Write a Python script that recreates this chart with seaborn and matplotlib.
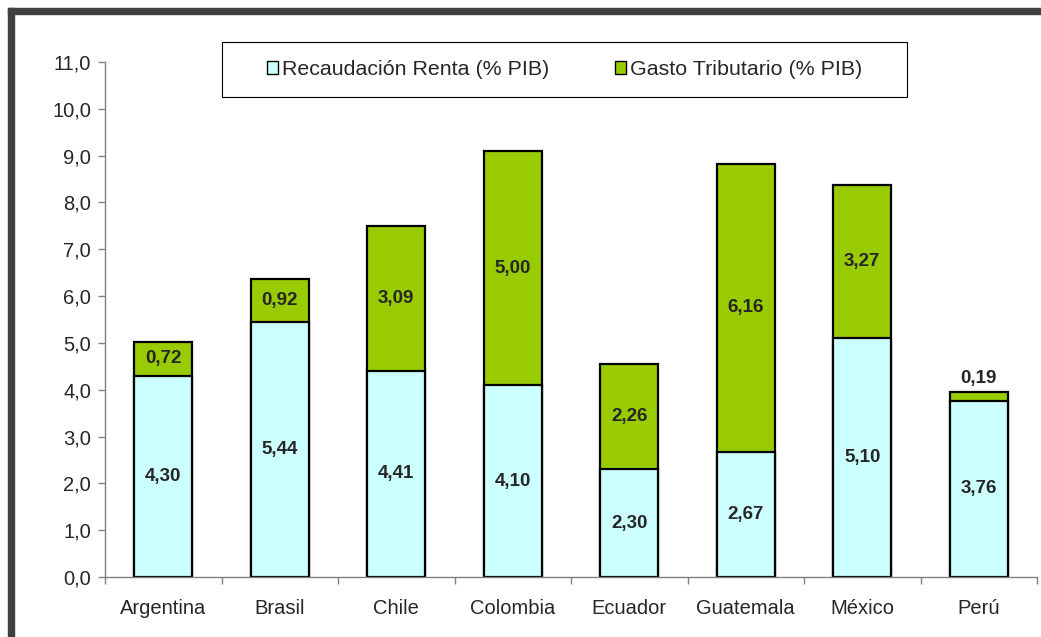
import numpy as np
import matplotlib
matplotlib.use("Agg")
import matplotlib.pyplot as plt
from matplotlib.patches import Rectangle, Patch
import seaborn as sns

sns.set_style("white")
plt.rcParams['font.family'] = ['Liberation Sans', 'DejaVu Sans']

countries = ['Argentina', 'Brasil', 'Chile', 'Colombia', 'Ecuador', 'Guatemala', 'México', 'Perú']
renta = [4.30, 5.44, 4.41, 4.10, 2.30, 2.67, 5.10, 3.76]
gasto = [0.72, 0.92, 3.09, 5.00, 2.26, 6.16, 3.27, 0.19]
labels = ['Recaudación Renta (% PIB)', 'Gasto Tributario (% PIB)']

c_renta = '#CCFFFF'
c_gasto = '#99CC00'

total = [r + g for r, g in zip(renta, gasto)]

W, H = 1041, 637
fig = plt.figure(figsize=(W / 100, H / 100), dpi=100)
ax = fig.add_axes([105 / W, 1 - 577 / H, (1037 - 105) / W, (577 - 62) / H])

# stacked: totals in green, renta drawn on top from zero
sns.barplot(x=countries, y=total, color=c_gasto, saturation=1, width=0.5,
            edgecolor='black', linewidth=1.6, ax=ax)
sns.barplot(x=countries, y=renta, color=c_renta, saturation=1, width=0.5,
            edgecolor='black', linewidth=1.6, ax=ax)

fmt = lambda v: '{:.2f}'.format(v).replace('.', ',')
for i, (r, g) in enumerate(zip(renta, gasto)):
    ax.text(i, r / 2, fmt(r), ha='center', va='center', fontsize=13.5, fontweight='bold')
    if g < 0.5:
        ax.text(i, r + g + 0.3, fmt(g), ha='center', va='center', fontsize=13.5, fontweight='bold')
    else:
        ax.text(i, r + g / 2, fmt(g), ha='center', va='center', fontsize=13.5, fontweight='bold')

ax.set_ylim(0, 11)
ax.set_xlim(-0.5, 7.5)
yt = np.arange(0, 11.5, 1)
ax.set_yticks(yt)
ax.set_yticklabels(['{:.1f}'.format(v).replace('.', ',') for v in yt])
ax.set_xticks(np.arange(-0.5, 8, 1), minor=True)
ax.tick_params(axis='x', which='major', length=0, pad=16, labelsize=14.5)
ax.tick_params(axis='x', which='minor', length=5, width=1, color='#808080', direction='out')
ax.tick_params(axis='y', length=5, width=1, color='#808080', direction='out', pad=5, labelsize=14.5)
ax.tick_params(left=True, bottom=True, which='both')

for s in ['top', 'right']:
    ax.spines[s].set_visible(False)
for s in ['left', 'bottom']:
    ax.spines[s].set_color('#808080')
    ax.spines[s].set_linewidth(1)
ax.set_xlabel('')
ax.set_ylabel('')

# legend box drawn separately, entries centred inside
fig.patches.append(Rectangle((222 / W, 1 - 97 / H), (907 - 222) / W, 55 / H, transform=fig.transFigure,
                             facecolor='white', edgecolor='black', linewidth=0.8, zorder=5))
handles = [Patch(facecolor=c_renta, edgecolor='black', linewidth=1),
           Patch(facecolor=c_gasto, edgecolor='black', linewidth=1)]
leg = fig.legend(handles, labels, loc='center', bbox_to_anchor=(564.5 / W, 1 - 69.5 / H),
                 ncol=2, fontsize=15.4, frameon=False, handlelength=0.51, handleheight=0.51,
                 handletextpad=0.19, columnspacing=3.1)
leg.set_zorder(6)

# dark frame on the left and top of the chart area
fig.patches.append(Rectangle((8 / W, 0), 6 / W, 1 - 8 / H, transform=fig.transFigure,
                             color='#404040', zorder=10))
fig.patches.append(Rectangle((8 / W, 1 - 14 / H), 1 - 8 / W, 6 / H, transform=fig.transFigure,
                             color='#404040', zorder=10))

fig.savefig('out.png', dpi=100)
